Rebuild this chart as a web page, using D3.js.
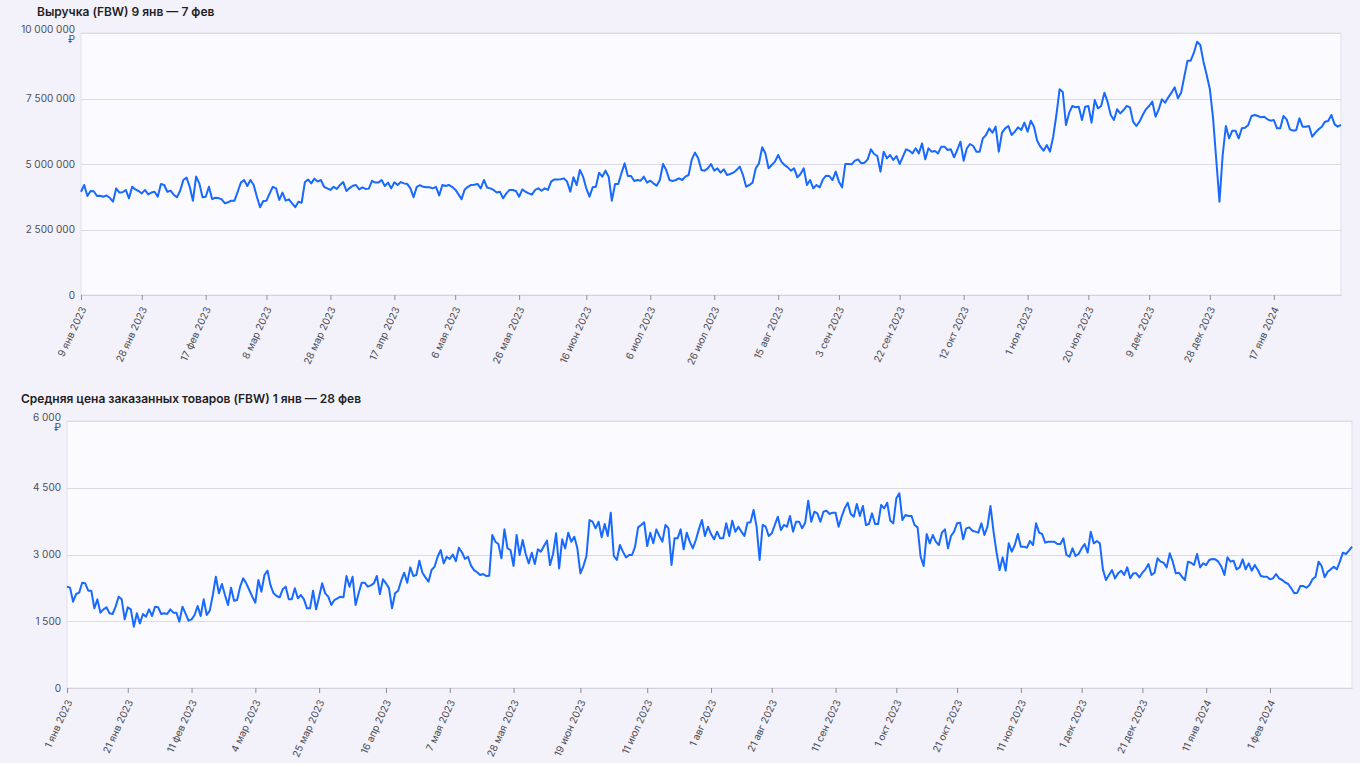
<!DOCTYPE html>
<html lang="ru">
<head>
<meta charset="utf-8">
<script src="https://cdn.jsdelivr.net/npm/d3@7/dist/d3.min.js"></script>
<style>
  html, body { margin: 0; padding: 0; background: #f3f2fb; }
  svg { display: block; font-family: Inter, "Noto Sans", sans-serif; }
</style>
</head>
<body>
<svg id="chart" width="1360" height="763"></svg>
<script>
const MONTHS = ["янв","фев","мар","апр","мая","июн","июл","авг","сен","окт","ноя","дек"];

// ---- Chart 1: Выручка (FBW), daily from 9 Jan 2023 ----
const revenueTitle = "Выручка (FBW) 9 янв — 7 фев";
const revenueStart = "2023-01-09";
const revenueValues = [
  3940,4200,3780,3970,3960,3780,3790,3750,3800,3710,3560,4070,3910,3920,4010,3690,4130,4030,3970,3880,
  4010,3840,3910,3940,3750,4240,4200,3940,3980,3830,3730,3980,4390,4480,4130,3600,4520,4260,3730,3750,
  4130,3660,3710,3700,3650,3500,3540,3600,3600,3940,4290,4390,4160,4390,4200,3750,3350,3590,3600,3880,
  4130,4070,3630,3910,3600,3650,3500,3350,3560,3520,4300,4410,4260,4440,4330,4390,4130,4070,4010,4130,
  4050,4200,4310,3970,4080,4170,4200,4030,4110,4050,4060,4360,4290,4290,4390,4160,4290,4070,4300,4200,
  4310,4260,4240,4070,3730,4130,4190,4130,4110,4110,4070,4130,3800,4200,4160,4200,4130,4030,3850,3660,
  4030,4130,4200,4210,4240,4070,4390,4100,4070,4010,3910,3940,3690,3880,4010,4010,3970,3750,4030,3940,
  3880,3830,4010,4070,3980,4070,4010,4330,4410,4410,
  4415,4453,4326,3944,4491,4198,4771,4517,4071,3753,4109,4135,4669,4517,4746,4517,3600,4237,4237,4644,
  5025,4542,4542,4351,4389,4364,4517,4288,4364,4262,4173,4389,5000,4771,4389,4351,4389,4453,4389,4517,
  4580,5178,5433,5216,4771,4746,4835,5000,4746,4835,4669,4797,4580,4618,4669,4771,4898,4580,4135,4198,
  4288,4835,5025,5636,5407,4835,4962,5089,5344,5089,4962,4873,4746,4835,4491,4618,4835,4198,4389,4071,
  4198,4109,4415,4555,4542,4389,4708,4326,4109,5000,5000,4987,5127,5178,5025,5050,5178,5560,5382,5305,
  4708,5471,5216,5344,5153,5305,5000,5280,5560,5509,5407,5598,5407,5789,5178,5598,5471,5496,5407,5662,
  5662,5534,5560,5255,5534,5852,5127,5598,5763,5687,5471,5471,5980,6107,6362,6196,6425,5471,6196,6362,
  6450,6107,6234,6400,6298,6578,6234,6654,6425,5890,
  5662,5509,5725,5471,6043,6870,7850,7748,6489,6960,7214,7163,7189,6679,7189,7214,6578,7443,7125,7214,
  7722,7379,6870,6679,7087,6934,7061,7214,7163,6616,6450,6616,6870,7087,7214,7379,6807,7087,7468,7341,
  7544,7722,7926,7506,7722,8333,8944,8944,9249,9669,9542,8906,8397,7850,6743,5153,3562,5344,6450,5980,
  6272,6272,5980,6362,6387,6489,6832,6870,6832,6781,6807,6705,6654,6679,6362,6362,6832,6705,6324,6272,
  6298,6743,6425,6425,6450,6043,6196,6324,6425,6616,6641,6870,6514,6425,6489
].map(v => v * 1000);
const revenueXTicks = ["2023-01-09","2023-01-28","2023-02-17","2023-03-08","2023-03-28","2023-04-17",
  "2023-05-06","2023-05-26","2023-06-16","2023-07-06","2023-07-26","2023-08-15","2023-09-03","2023-09-22",
  "2023-10-12","2023-11-01","2023-11-20","2023-12-09","2023-12-28","2024-01-17"];
const revenueYTicks = [0, 2500000, 5000000, 7500000, 10000000];

// ---- Chart 2: Средняя цена заказанных товаров (FBW), daily from 1 Jan 2023 ----
const priceTitle = "Средняя цена заказанных товаров (FBW) 1 янв — 28 фев";
const priceStart = "2023-01-01";
const priceValues = [
  2277,2255,1940,2112,2142,2367,2352,2187,2187,1790,1992,1693,1768,1813,1678,1663,1828,2052,1992,1543,
  1813,1768,1378,1678,1453,1663,1603,1768,1618,1828,1813,1663,1678,1663,1768,1693,1693,1491,1828,1678,
  1513,1543,1640,1843,1618,1992,1640,1738,2090,2501,2127,2337,2090,1865,2255,1962,1977,2277,2464,2352,
  2202,2052,1917,2427,2165,2539,2636,2307,2127,2067,2037,2217,2277,1992,1992,2240,2015,2090,1992,1790,
  1790,2187,1768,2052,2352,2127,2052,1865,1977,2015,2052,2037,2517,2277,2501,1865,2127,2367,2367,2277,
  2307,2352,2517,2112,2442,2352,2240,1790,2127,2187,2412,2591,2367,2711,2517,2539,2861,2591,2487,2389,
  2651,2726,
  2950,3100,2800,2950,2900,3000,2850,3150,3050,2900,2950,2750,2650,2600,
  2539,2561,2517,2524,3438,3288,3236,2914,3565,3138,3101,2741,3438,2989,3326,3011,2801,3041,2786,3116,
  3064,3191,3311,2764,3011,3476,2689,3341,3138,3491,3288,3400,3138,2576,2741,2966,3775,3737,3588,3737,
  3386,3685,3415,3940,2966,2876,3213,3064,2936,2989,2989,3176,3610,3663,3723,3191,3491,3251,3565,3415,
  3288,3663,3588,2764,3363,3363,3565,3116,3491,3288,3138,3326,3565,3775,3415,3625,3460,3341,3513,3363,
  3363,3700,3415,3760,3513,3625,3513,3415,3715,3723,4000,3625,2876,3663,3625,3415,3476,3663,3850,3550,
  3663,3625,3865,3513,3737,3737,3588,3715,4209,3737,3962,3925,3737,3962,3985,3910,3940,3940,3625,3850,
  4037,4164,3910,3850,4134,3865,4090,3663,3685,3925,3685,3685,4112,4037,4164,3760,3700,4262,4374,3775,
  3887,3865,3865,3663,3610,2951,2741,3460,3251,3438,3288,3213,3491,3565,3138,3415,3513,3700,
  3715,3341,3588,3610,3535,3513,3491,3700,3438,3625,4090,3513,3041,2651,2936,2636,3251,3064,3213,3460,
  3176,3176,3153,3303,3213,3700,3491,3460,3266,3288,3288,3288,3236,3236,3363,2989,2951,3138,2966,3011,
  3138,3236,3041,3513,3251,3303,3251,2666,2427,2539,2651,2464,2576,2636,2539,2711,2464,2576,2576,2487,
  2591,2666,2786,2539,2591,2914,2839,2816,2711,3026,2839,2576,2591,2501,2427,2839,2816,2764,3011,2711,
  2801,2764,2876,2899,2891,2839,2726,2539,2936,2839,2861,2666,2711,2891,2666,2801,2636,2764,2651,2517,
  2501,2501,2442,2464,2561,2464,2427,2374,2337,2240,2127,2142,2292,2292,2254,2314,2442,2501,2839,2741,
  2487,2614,2666,2726,2666,2839,3041,3011,3086,3176
];
const priceXTicks = ["2023-01-01","2023-01-21","2023-02-11","2023-03-04","2023-03-25","2023-04-16",
  "2023-05-07","2023-05-28","2023-06-19","2023-07-11","2023-08-01","2023-08-21","2023-09-11","2023-10-01",
  "2023-10-21","2023-11-11","2023-12-01","2023-12-21","2024-01-11","2024-02-01"];
const priceYTicks = [0, 1500, 3000, 4500, 6000];

const parse = d3.utcParse("%Y-%m-%d");
const fmtNum = d3.formatLocale({decimal: ",", thousands: " ", grouping: [3], currency: ["", "₽"]}).format(",d");
const fmtDate = d => `${d.getUTCDate()} ${MONTHS[d.getUTCMonth()]} ${d.getUTCFullYear()}`;

const svg = d3.select("#chart");

function drawChart(cfg) {
  const start = parse(cfg.start);
  const data = cfg.values.map((v, i) => ({date: d3.utcDay.offset(start, i), value: v}));
  const x = d3.scaleUtc().domain(d3.extent(data, d => d.date)).range([cfg.left, cfg.right]);
  const y = d3.scaleLinear().domain([0, d3.max(cfg.yTicks)]).range([cfg.bottom, cfg.top]);
  const g = svg.append("g");

  g.append("text").attr("x", cfg.titleX).attr("y", cfg.titleY)
    .attr("font-size", 12).attr("font-weight", 600).attr("fill", "#1e1e24").text(cfg.title);

  g.append("rect").attr("x", cfg.left).attr("y", cfg.top)
    .attr("width", cfg.right - cfg.left).attr("height", cfg.bottom - cfg.top)
    .attr("fill", "#fbfaff").attr("stroke", "#e2e1ea").attr("stroke-width", 1);

  // grid
  g.append("g").selectAll("line").data(cfg.yTicks.filter(t => t > 0)).join("line")
    .attr("x1", cfg.left).attr("x2", cfg.right)
    .attr("y1", d => Math.round(y(d)) + 0.5).attr("y2", d => Math.round(y(d)) + 0.5)
    .attr("stroke", "#dcdbe3").attr("stroke-width", 1);

  // y labels
  const yl = g.append("g").attr("font-size", 10).attr("fill", "#4d4d55").attr("text-anchor", "end");
  cfg.yTicks.forEach(t => {
    const yy = y(t);
    if (t === d3.max(cfg.yTicks)) {
      const tx = yl.append("text").attr("x", cfg.left - 6).attr("y", yy);
      tx.append("tspan").attr("x", cfg.left - 6).attr("dy", "0").text(fmtNum(t));
      tx.append("tspan").attr("x", cfg.left - 6).attr("dy", "10").text("₽");
    } else {
      yl.append("text").attr("x", cfg.left - 6).attr("y", yy).attr("dy", "0.35em").text(fmtNum(t));
    }
  });

  // x axis
  const xa = g.append("g").attr("transform", `translate(0,${cfg.bottom})`)
    .call(d3.axisBottom(x).tickValues(cfg.xTicks.map(parse)).tickFormat(fmtDate).tickSize(5).tickSizeOuter(0));
  xa.select(".domain").attr("stroke", "#d4d3db");
  xa.selectAll(".tick line").attr("stroke", "#8e8e96");
  xa.selectAll(".tick text")
    .attr("font-family", "Inter, 'Noto Sans', sans-serif")
    .attr("font-size", 10).attr("fill", "#4d4d55")
    .attr("text-anchor", "end")
    .attr("y", 0).attr("dy", 0)
    .attr("transform", "translate(5,14) rotate(-65)");

  // line
  const line = d3.line().x(d => x(d.date)).y(d => y(d.value));
  g.append("path").datum(data).attr("d", line)
    .attr("fill", "none").attr("stroke", "#1769ff").attr("stroke-width", 2)
    .attr("stroke-linejoin", "round");
}

drawChart({title: revenueTitle, start: revenueStart, values: revenueValues,
  xTicks: revenueXTicks, yTicks: revenueYTicks,
  left: 81, right: 1341, top: 33, bottom: 295, titleX: 37, titleY: 16});

drawChart({title: priceTitle, start: priceStart, values: priceValues,
  xTicks: priceXTicks, yTicks: priceYTicks,
  left: 67, right: 1352, top: 421, bottom: 688, titleX: 21, titleY: 403});
</script>
</body>
</html>
